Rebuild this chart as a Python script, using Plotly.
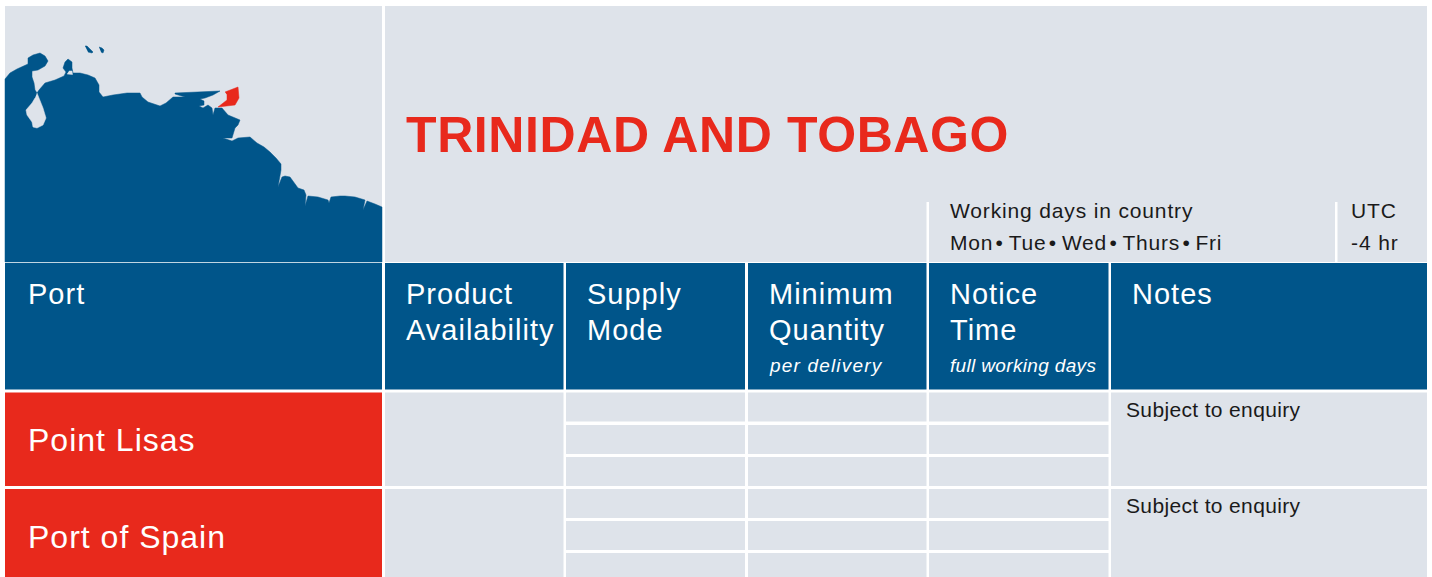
import json
import plotly.graph_objects as go

BLUE = "#00558A"
RED = "#E8291C"
GREY = "#DEE3EA"
FONT = "Liberation Sans"

title = "TRINIDAD AND TOBAGO"
headers = ["Port", "Product<br>Availability", "Supply<br>Mode", "Minimum<br>Quantity", "Notice<br>Time", "Notes"]
header_subs = ["", "", "", "per delivery", "full working days", ""]
ports = ["Point Lisas", "Port of Spain"]
port_notes = ["Subject to enquiry", "Subject to enquiry"]
working_days_title = "Working days in country"
working_days = "Mon\u200a\u2022\u2009Tue\u200a\u2022\u2009Wed\u200a\u2022\u2009Thurs\u200a\u2022\u2009Fri"
utc_title = "UTC"
utc_value = "-4 hr"

col_edges = [(5, 382), (385, 563.5), (566, 745), (748, 926.5), (929, 1108.5), (1111, 1427)]
header_band = (263, 389.5)
port_bands = [(392.5, 486), (489, 578)]
sub_bands = [[(392.5, 421.5), (425, 454), (457, 486)], [(489, 518), (521, 550), (553, 578)]]

land_x = [5, 5, 10, 17, 28, 28, 33, 40, 45, 48, 45, 38, 32, 32, 34, 35, 37, 39, 45, 55, 64, 66, 63, 65, 68, 72, 72, 73, 80,
          88, 95, 99, 99, 103, 113, 127, 140, 142, 148, 160, 166, 173, 185, 175, 175, 200, 220, 213, 205, 200, 204, 204,
          199, 203, 208, 212, 213, 215, 222, 228, 240, 238, 235, 232, 223, 232, 238, 250,
          257, 264, 270, 276, 281, 281, 278, 282, 285, 290, 295, 298, 304, 306, 305, 308, 318, 328, 329, 331, 340, 345,
          355, 365, 363, 367, 375, 382, 382, 5]
land_y = [262, 79, 73, 69, 64, 58, 55, 53, 56, 61, 66, 70, 71, 77, 83, 90, 93, 90, 83, 80, 76, 72, 68, 62, 59, 62, 68, 73, 73,
          75, 78, 85, 92, 97, 95, 93, 93, 97, 102, 106, 103, 97, 97, 94, 93, 92, 91, 95, 98, 99, 101, 105,
          106, 108, 105, 108, 115, 108, 108, 115, 120, 125, 128, 138, 138, 141, 138, 137,
          143, 147, 152, 158, 164, 170, 187, 177, 176, 177, 184, 188, 190, 195, 206, 196, 197, 200, 203, 197, 196, 196,
          197, 200, 210, 201, 204, 207, 262, 262]
lake_x = [37, 39, 43, 46, 43, 37, 33, 32, 27, 26, 32, 35]
lake_y = [93, 98, 108, 118, 125, 128, 127, 122, 115, 110, 103, 98]
notch_x = [69, 72, 72.5, 67]
notch_y = [71, 71, 74.5, 74]
trinidad_x = [225, 238, 239, 235, 218, 227, 227]
trinidad_y = [92, 87, 98, 105, 107, 100, 95]
island1_x = [85, 87, 93, 92, 88]
island1_y = [46, 46, 52, 53, 52]
island2_x = [99, 102, 104, 103, 101]
island2_y = [47, 48, 50, 53, 52]

shapes = []
def rect(x0, x1, y0, y1, color):
    shapes.append(dict(type="rect", x0=x0, x1=x1, y0=y0, y1=y1, fillcolor=color, line_width=0, layer="below"))

rect(5, 382, 6, 261.5, GREY)
rect(385, 1427, 6, 262, GREY)
for c in col_edges:
    rect(c[0], c[1], header_band[0], header_band[1], BLUE)
for i, band in enumerate(port_bands):
    rect(col_edges[0][0], col_edges[0][1], band[0], band[1], RED)
    rect(col_edges[1][0], col_edges[1][1], band[0], band[1], GREY)
    rect(col_edges[5][0], col_edges[5][1], band[0], band[1], GREY)
    for c in col_edges[2:5]:
        for s in sub_bands[i]:
            rect(c[0], c[1], s[0], s[1], GREY)
for x in (926.5, 1335):
    rect(x, x + 2.5, 202, 263, "white")

fig = go.Figure()
for xs, ys, col in [(land_x, land_y, BLUE), (lake_x, lake_y, GREY), (notch_x, notch_y, GREY),
                    (trinidad_x, trinidad_y, RED), (island1_x, island1_y, BLUE), (island2_x, island2_y, BLUE)]:
    fig.add_trace(go.Scatter(x=xs, y=ys, mode="lines", fill="toself", fillcolor=col,
                             line=dict(color=col, width=0.5), hoverinfo="skip", showlegend=False))

ann = []
spacings = []
def text(x, y, s, size, color, bold=False, italic=False, spacing=0):
    ann.append(dict(x=x - 2, y=y, text=f"<b>{s}</b>" if bold else (f"<i>{s}</i>" if italic else s), showarrow=False,
                    xanchor="left", yanchor="middle", align="left",
                    font=dict(family=FONT, size=size, color=color)))
    spacings.append(spacing)

text(406, 135, title, 50, RED, bold=True, spacing=0.6)
text(950, 210, working_days_title, 21, "#1a1a1a", spacing=0.85)
text(950, 242, working_days, 21, "#1a1a1a", spacing=0.75)
text(1351, 210, utc_title, 21, "#1a1a1a", spacing=0.9)
text(1351, 242, utc_value, 21, "#1a1a1a", spacing=0.9)
text_x = [28, 406, 587, 769, 950, 1132]
for x, h in zip(text_x, headers):
    lines = h.split("<br>")
    text(x, 294, lines[0], 29, "white", spacing=1.0)
    if len(lines) > 1:
        text(x, 330, lines[1], 29, "white", spacing=1.0)
sub_spacing = {"per delivery": 1.18, "full working days": 0.34}
for x, sub in zip(text_x, header_subs):
    if sub:
        text(x, 365, sub, 19, "white", italic=True, spacing=sub_spacing[sub])
for y, p in zip([440, 537], ports):
    text(28, y, p, 32, "white", spacing=1.0)
for y, n in zip([409, 505], port_notes):
    text(1126, y, n, 21, "#1a1a1a", spacing=0.35)

fig.update_layout(
    width=1432, height=577, margin=dict(l=0, r=0, t=0, b=0),
    paper_bgcolor="white", plot_bgcolor="white", showlegend=False,
    xaxis=dict(range=[0, 1432], visible=False, fixedrange=True),
    yaxis=dict(range=[577, 0], visible=False, fixedrange=True),
    shapes=shapes, annotations=ann,
)
post = """
document.body.style.margin = '0';
document.documentElement.style.overflow = 'hidden';
var sp = %s;
document.querySelectorAll('.annotation .annotation-text').forEach(function (t, i) {
  t.style.letterSpacing = sp[i] + 'px';
});
""" % json.dumps(spacings)
fig.write_html("out.html", config={"displayModeBar": False}, post_script=post)
